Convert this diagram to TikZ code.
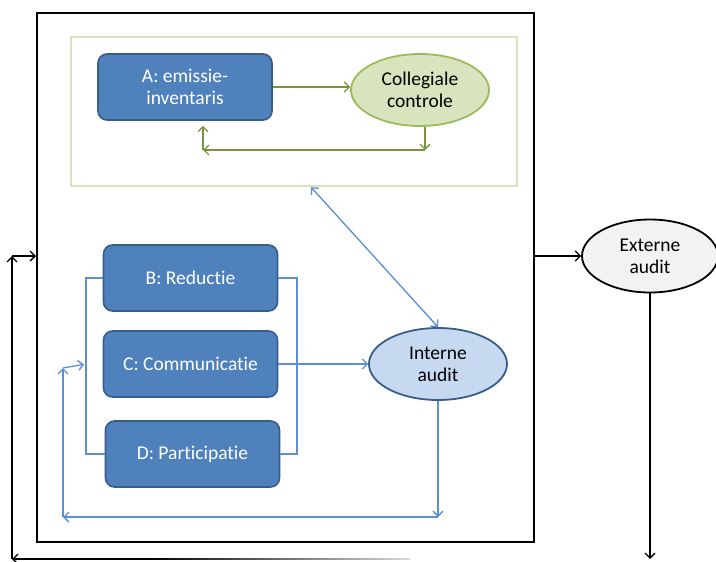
\documentclass[tikz,border=0pt]{standalone}
\usepackage{fontspec}
\setmainfont{Carlito}[Ligatures=NoCommon]
\usetikzlibrary{arrows.meta,shapes.geometric}

\definecolor{boxblauw}{HTML}{4F81BD}
\definecolor{boxrand}{HTML}{385D8A}
\definecolor{groenlicht}{HTML}{D7E4BD}
\definecolor{groenrand}{HTML}{9BBB59}
\definecolor{olijf}{HTML}{77933C}
\definecolor{lijnblauw}{HTML}{5A8ED6}
\definecolor{auditblauw}{HTML}{C6D9F1}
\definecolor{extgrijs}{HTML}{F2F2F2}

\begin{document}
\begin{tikzpicture}[x=1pt,y=-1pt,line width=1.3pt,>={Straight Barb[length=5pt,width=10pt]},
  font=\fontsize{19.5}{22}\selectfont,
  blok/.style={draw=boxrand,fill=boxblauw,rounded corners=9pt,minimum width=174pt,minimum height=66pt,
    text=white,align=center,line width=1.6pt},
  ovaal/.style={ellipse,minimum width=138pt,minimum height=72pt,inner sep=0pt,align=center,line width=1.8pt},
  groen/.style={olijf,line width=1.3pt},
  blauw/.style={lijnblauw,line width=1.3pt}]
  \useasboundingbox (0,0) rectangle (716,562);
  % kaders
  \node[draw,line width=2.4pt,minimum width=497pt,minimum height=529pt,anchor=north west] (kader) at (36,12) {};
  \node[draw=groenlicht,line width=2.2pt,minimum width=446pt,minimum height=149pt,anchor=north west] (groep) at (70,36) {};
  % blokken
  \node[blok] (A) at (185,87) {A: emissie-\\inventaris};
  \node[ovaal,draw=groenrand,fill=groenlicht] (coll) at (420,90) {Collegiale\\controle};
  \node[blok] (B) at (190.5,278) {B: Reductie};
  \node[blok] (C) at (190.5,364) {C: Communicatie};
  \node[blok] (D) at (192.5,454) {D: Participatie};
  \node[ovaal,draw=boxrand,fill=auditblauw] (int) at (438,364) {Interne\\audit};
  \node[ovaal,draw=black,fill=extgrijs,minimum width=136pt,minimum height=73pt] (ext) at (650,256) {Externe\\audit};
  % collegiale controle lus
  \coordinate (g1) at (425,150);
  \coordinate (g2) at (203,150);
  \draw[groen,->] (A.east) -- (A.east -| coll.west);
  \draw[groen,->] (g1 |- coll.south) -- (g1);
  \draw[groen,->] (g1) -- (g2);
  \draw[groen,->,shorten >=5pt] (g2) -- (g2 |- A.south);
  % haken rond B, C en D
  \coordinate (lh) at (86,0);
  \coordinate (rh) at (297,0);
  \draw[blauw] (B.west) -- (B.west -| lh) -- (D.west -| lh) -- (D.west);
  \draw[blauw] (B.east) -- (B.east -| rh) -- (D.east -| rh) -- (D.east);
  \draw[blauw,->] (C.east) -- (int.west);
  \draw[blauw,<->] ([xshift=17pt]groep.south) -- (int.north);
  % terugkoppeling interne audit
  \coordinate (t2) at (63,517);
  \coordinate (t3) at (63,368);
  \draw[blauw,->] (int.south) -- (int.south |- t2);
  \draw[blauw,->] (int.south |- t2) -- (t2);
  \draw[blauw,->] (t2) -- (t3);
  \draw[blauw,->,shorten >=2pt] (t3) -- (C.west -| lh);
  % externe audit
  \coordinate (o1) at (150,559);
  \coordinate (o2) at (12,559);
  \coordinate (o3) at (12,256);
  \draw[->] (kader.east |- ext.west) -- (ext.west);
  \draw[->] (ext.south) -- (ext.south |- o2);
  \shade[left color=black,right color=black!15] (150,558.3) rectangle (410,559.7);
  \draw[->] (o1) -- (o2);
  \draw[->] (o2) -- (o3);
  \draw[->] (o3) -- (o3 -| kader.west);
\end{tikzpicture}
\end{document}
